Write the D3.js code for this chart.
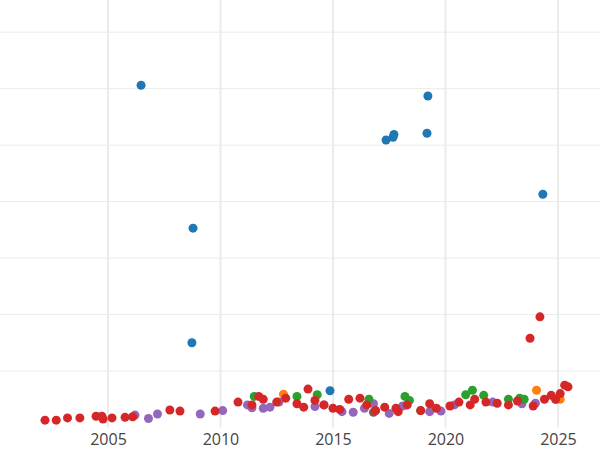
<!DOCTYPE html>
<html><head><meta charset="utf-8">
<script src="https://cdn.jsdelivr.net/npm/d3@7"></script>
<style>body{margin:0;background:#fff;font-family:"Open Sans",sans-serif;}</style>
</head><body><div id="chart"></div>
<script>
// [year, value] per series
const bluePts = [[2006.47,6.06],[2008.78,3.53],[2008.73,1.50],[2019.22,5.87],[2017.71,5.19],
  [2017.67,5.14],[2017.36,5.09],[2019.18,5.21],[2024.33,4.13],[2014.87,0.65]];
const redPts = [[2002.2,0.13],[2002.7,0.13],[2003.2,0.17],[2003.75,0.17],[2004.47,0.2],[2004.73,0.2],
  [2004.78,0.15],[2005.18,0.17],[2005.76,0.18],[2006.1,0.19],[2007.75,0.31],[2008.2,0.29],[2009.76,0.29],
  [2010.78,0.45],[2011.4,0.4],[2011.7,0.55],[2011.9,0.5],[2012.5,0.45],[2012.9,0.52],[2013.4,0.42],
  [2013.7,0.36],[2013.89,0.68],[2014.2,0.48],[2014.6,0.4],[2015.0,0.34],[2015.3,0.32],[2015.7,0.5],
  [2016.2,0.52],[2016.5,0.4],[2016.9,0.3],[2017.3,0.36],[2017.8,0.34],[2017.9,0.28],[2018.3,0.4],
  [2018.9,0.3],[2019.3,0.42],[2019.6,0.34],[2020.2,0.38],[2020.6,0.45],[2021.1,0.4],[2021.3,0.5],
  [2021.8,0.45],[2022.3,0.43],[2022.8,0.4],[2023.2,0.47],[2023.76,1.58],[2024.2,1.96],[2023.9,0.38],
  [2024.4,0.5],[2024.7,0.57],[2025.1,0.6],[2025.3,0.75],[2025.45,0.72],[2024.9,0.5]];
const greenPts = [[2011.5,0.55],[2013.4,0.55],[2014.3,0.58],[2016.6,0.5],[2018.2,0.55],[2018.4,0.48],
  [2018.9,0.3],[2020.9,0.58],[2021.2,0.66],[2021.7,0.57],[2022.8,0.5],[2023.3,0.52],[2023.5,0.5]];
const purplePts = [[2006.2,0.22],[2006.8,0.16],[2007.2,0.24],[2009.1,0.24],[2010.1,0.3],[2011.2,0.4],
  [2011.4,0.35],[2011.9,0.34],[2012.2,0.36],[2012.6,0.45],[2014.2,0.37],[2014.6,0.4],[2015.4,0.28],
  [2015.9,0.27],[2016.4,0.34],[2016.8,0.42],[2017.5,0.25],[2018.1,0.38],[2019.3,0.28],[2019.8,0.29],
  [2020.4,0.4],[2022.1,0.45],[2023.4,0.42],[2024.0,0.43],[2024.9,0.5]];
const orangePts = [[2012.8,0.59],[2024.05,0.66],[2025.1,0.5]];
const brownPts = [[2016.8,0.27]];
const xTicks = [2005, 2010, 2015, 2020, 2025];
const yGrid = [1, 2, 3, 4, 5, 6, 7];

const series = [
  {pts: purplePts, color: "#9467bd"},
  {pts: greenPts, color: "#2ca02c"},
  {pts: orangePts, color: "#ff7f0e"},
  {pts: brownPts, color: "#8c564b"},
  {pts: redPts, color: "#d62728"},
  {pts: bluePts, color: "#1f77b4"}
];

const width = 600, height = 450, bottom = 427.5;
const svg = d3.select("#chart").append("svg").attr("width", width).attr("height", height);

const x = d3.scaleLinear().domain([2000.2, 2026.87]).range([0, width]);
const y = d3.scaleLinear().domain([0, 7.57]).range([bottom, 0]);

// gridlines
svg.selectAll(".hg").data(yGrid).enter().append("line")
  .attr("x1", 0).attr("x2", width).attr("y1", d => y(d)).attr("y2", d => y(d))
  .attr("stroke", "#ebebeb").attr("stroke-width", 1);
svg.selectAll(".vg").data(xTicks).enter().append("line")
  .attr("y1", 0).attr("y2", bottom).attr("x1", d => x(d)).attr("x2", d => x(d))
  .attr("stroke", "#ebebeb").attr("stroke-width", 2);

// x axis labels
const xAxis = svg.append("g").attr("transform", `translate(0,${bottom})`)
  .call(d3.axisBottom(x).tickValues(xTicks).tickFormat(d3.format("d")).tickSize(0).tickPadding(6));
xAxis.select(".domain").remove();
xAxis.selectAll("text").attr("font-size", 16).attr("fill", "#444").attr("font-family", "Open Sans, sans-serif");

// points
series.forEach(s => {
  svg.append("g").selectAll("circle").data(s.pts).enter().append("circle")
    .attr("cx", d => x(d[0])).attr("cy", d => y(d[1])).attr("r", 4.5)
    .attr("fill", s.color);
});
</script>
</body></html>
